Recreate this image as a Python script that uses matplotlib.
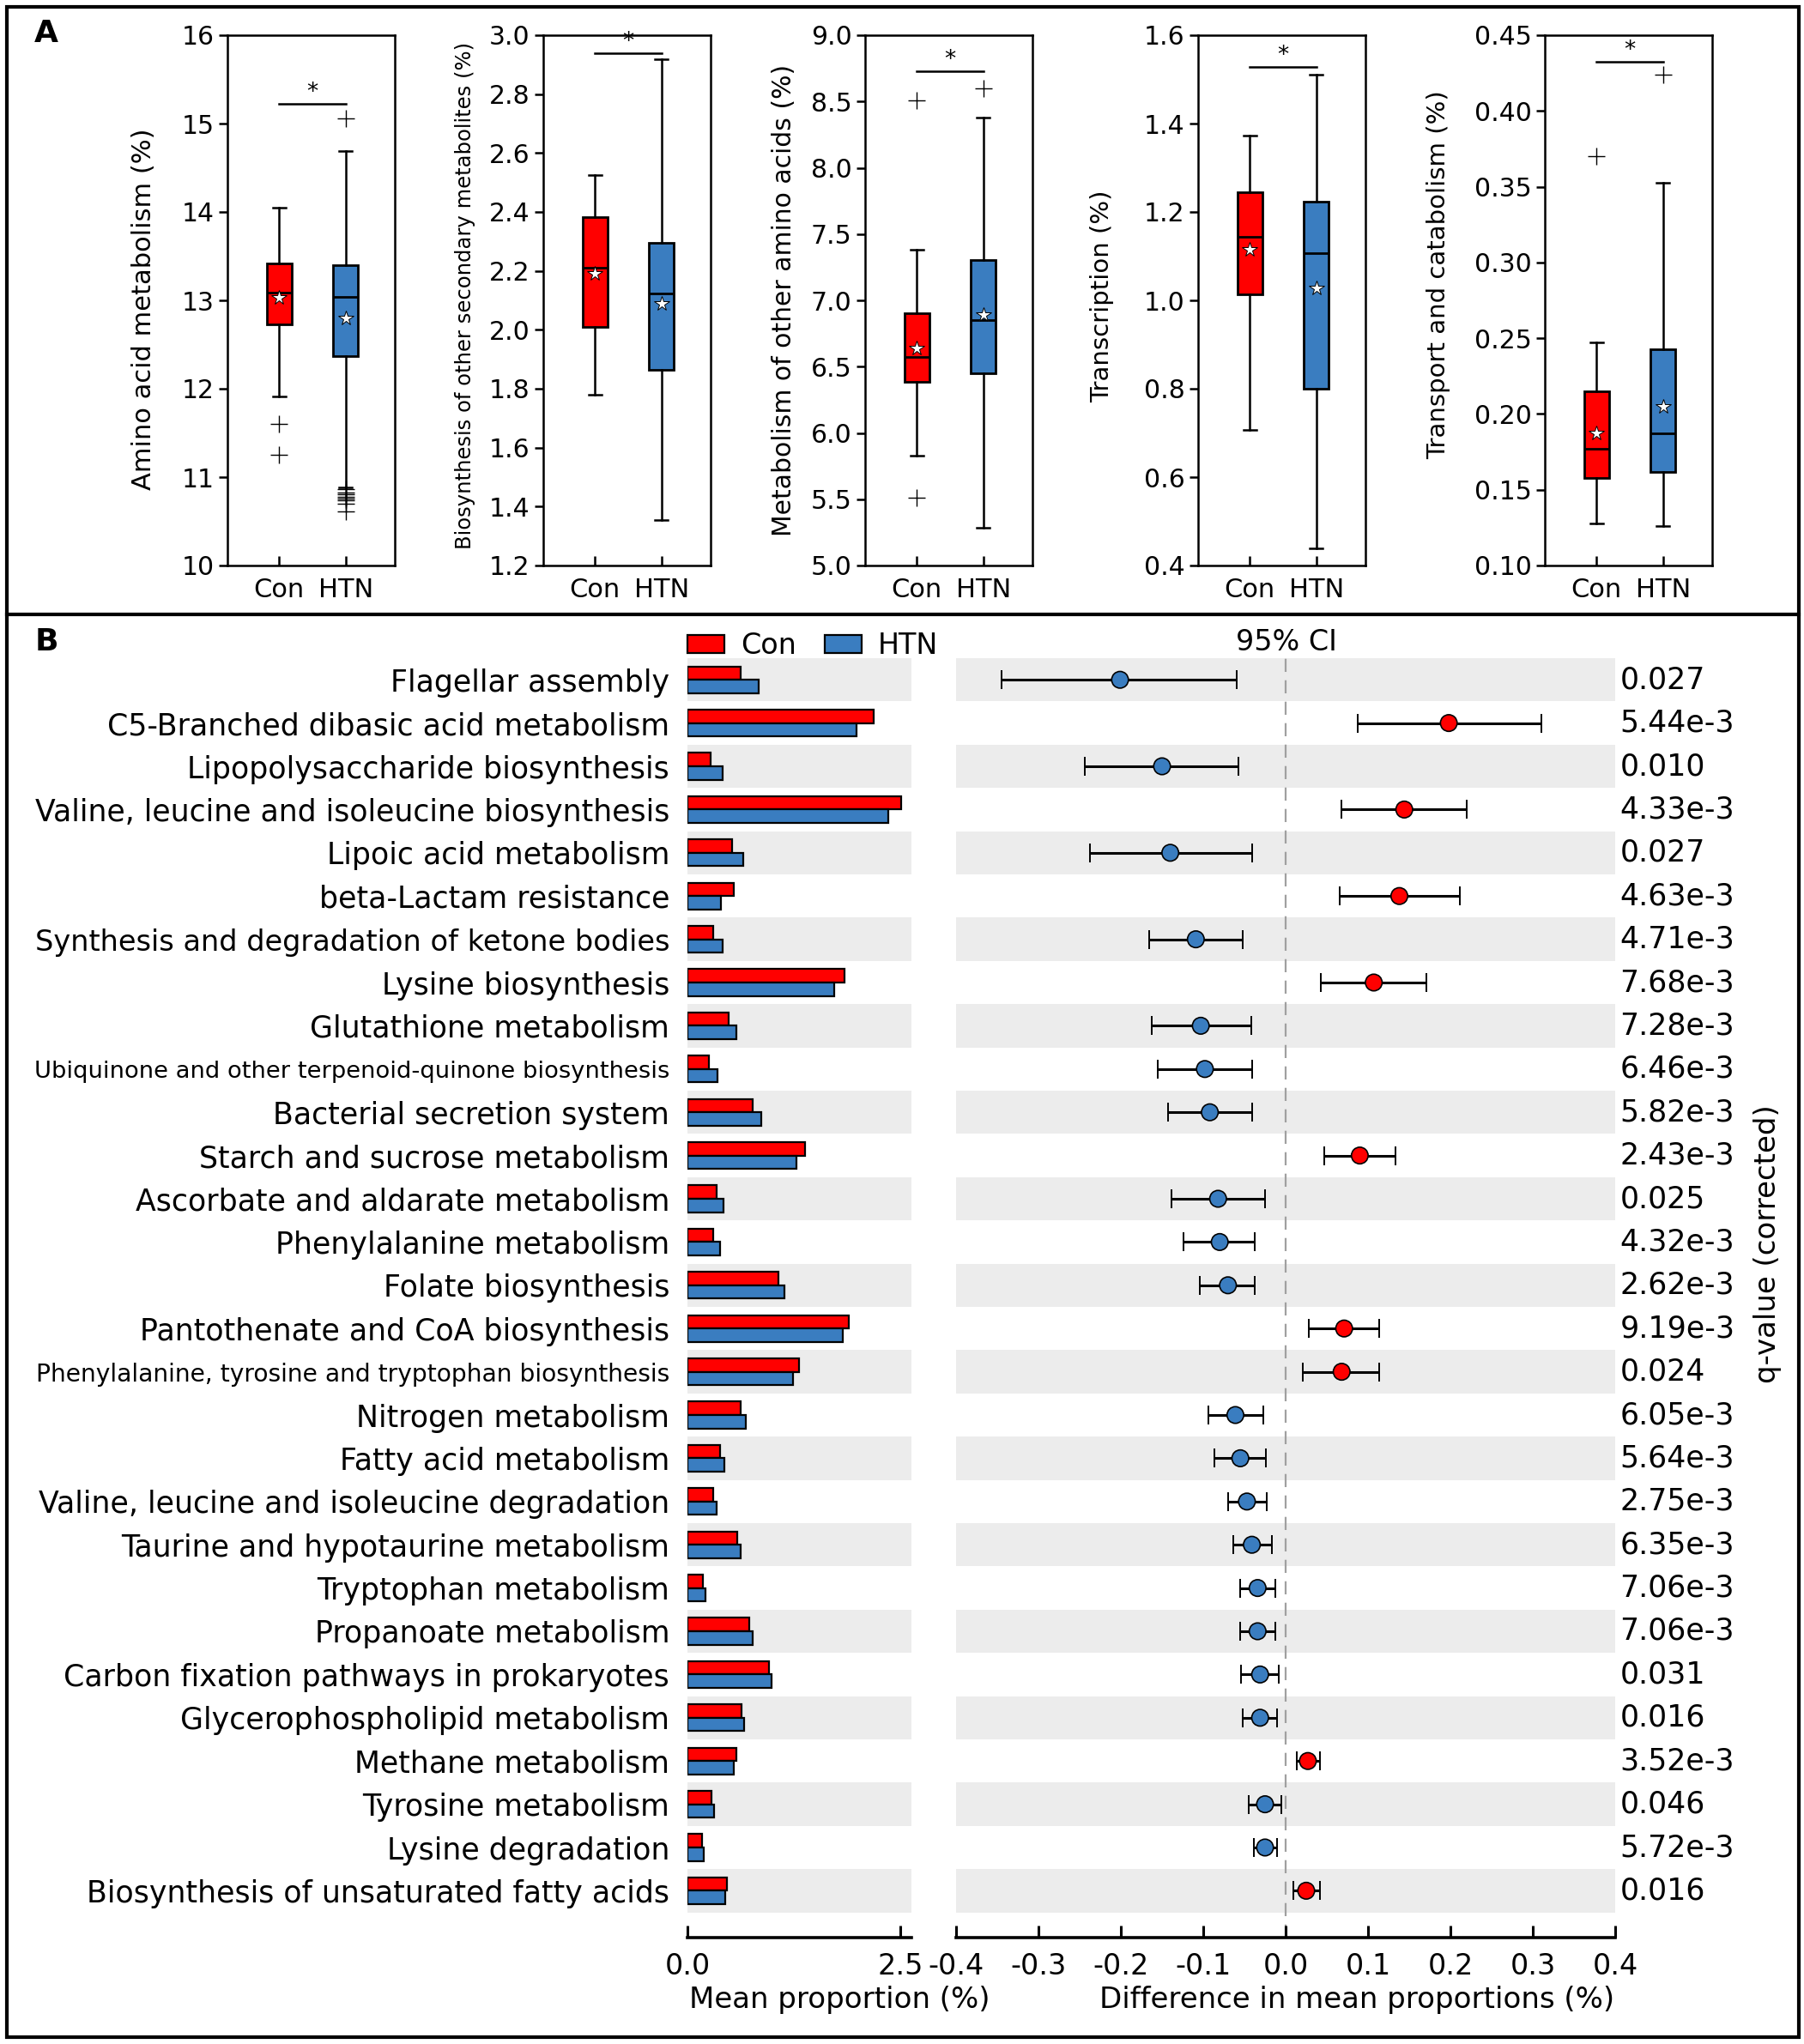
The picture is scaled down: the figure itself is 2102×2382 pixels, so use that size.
import matplotlib
matplotlib.use('Agg')
import matplotlib.pyplot as plt
import numpy as np
from matplotlib.patches import Rectangle, Patch
from matplotlib.lines import Line2D

plt.rcParams['font.family'] = ['DejaVu Sans']
plt.rcParams['lines.scale_dashes'] = False

# ---------------- Panel A data ----------------
box_ylabels = ['Amino acid metabolism (%)',
               'Biosynthesis of other secondary metabolites (%)',
               'Metabolism of other amino acids (%)',
               'Transcription (%)',
               'Transport and catabolism (%)']
groups = ['Con', 'HTN']
ytick_labels = [['10', '11', '12', '13', '14', '15', '16'],
                ['1.2', '1.4', '1.6', '1.8', '2.0', '2.2', '2.4', '2.6', '2.8', '3.0'],
                ['5.0', '5.5', '6.0', '6.5', '7.0', '7.5', '8.0', '8.5', '9.0'],
                ['0.4', '0.6', '0.8', '1.0', '1.2', '1.4', '1.6'],
                ['0.10', '0.15', '0.20', '0.25', '0.30', '0.35', '0.40', '0.45']]

con_whislo = [11.91, 1.781, 5.826, 0.706, 0.128]
con_q1 = [12.73, 2.010, 6.386, 1.013, 0.158]
con_med = [13.09, 2.211, 6.574, 1.144, 0.177]
con_q3 = [13.42, 2.382, 6.905, 1.245, 0.215]
con_whishi = [14.05, 2.524, 7.379, 1.372, 0.247]
con_mean = [13.03, 2.189, 6.640, 1.115, 0.187]
con_fliers = [[11.60, 11.25], [], [8.51, 5.51], [], [0.370]]

htn_whislo = [10.88, 1.354, 5.283, 0.439, 0.126]
htn_q1 = [12.37, 1.864, 6.452, 0.800, 0.162]
htn_med = [13.04, 2.122, 6.848, 1.106, 0.187]
htn_q3 = [13.40, 2.296, 7.301, 1.224, 0.243]
htn_whishi = [14.69, 2.917, 8.377, 1.511, 0.3525]
htn_mean = [12.80, 2.088, 6.887, 1.028, 0.205]
htn_fliers = [[15.06, 10.86, 10.83, 10.81, 10.78, 10.76, 10.74, 10.70, 10.61],
              [], [8.60], [], [0.424]]
sig_y = [15.22, 2.94, 8.73, 1.528, 0.4325]

# ---------------- Panel B data ----------------
pathways = ['Flagellar assembly',
            'C5-Branched dibasic acid metabolism',
            'Lipopolysaccharide biosynthesis',
            'Valine, leucine and isoleucine biosynthesis',
            'Lipoic acid metabolism',
            'beta-Lactam resistance',
            'Synthesis and degradation of ketone bodies',
            'Lysine biosynthesis',
            'Glutathione metabolism',
            'Ubiquinone and other terpenoid-quinone biosynthesis',
            'Bacterial secretion system',
            'Starch and sucrose metabolism',
            'Ascorbate and aldarate metabolism',
            'Phenylalanine metabolism',
            'Folate biosynthesis',
            'Pantothenate and CoA biosynthesis',
            'Phenylalanine, tyrosine and tryptophan biosynthesis',
            'Nitrogen metabolism',
            'Fatty acid metabolism',
            'Valine, leucine and isoleucine degradation',
            'Taurine and hypotaurine metabolism',
            'Tryptophan metabolism',
            'Propanoate metabolism',
            'Carbon fixation pathways in prokaryotes',
            'Glycerophospholipid metabolism',
            'Methane metabolism',
            'Tyrosine metabolism',
            'Lysine degradation',
            'Biosynthesis of unsaturated fatty acids']
con_prop = [0.62, 2.19, 0.27, 2.51, 0.52, 0.545, 0.30, 1.84, 0.48, 0.25,
            0.77, 1.38, 0.34, 0.30, 1.065, 1.895, 1.31, 0.625, 0.383, 0.30,
            0.585, 0.178, 0.73, 0.954, 0.635, 0.575, 0.282, 0.171, 0.467]
htn_prop = [0.835, 1.99, 0.41, 2.355, 0.658, 0.396, 0.41, 1.726, 0.573, 0.349,
            0.864, 1.284, 0.423, 0.38, 1.139, 1.821, 1.24, 0.689, 0.437, 0.346,
            0.628, 0.212, 0.766, 0.985, 0.669, 0.548, 0.309, 0.192, 0.44]
diff_mean = [-0.201, 0.198, -0.150, 0.144, -0.140, 0.138, -0.109, 0.107, -0.103, -0.098,
             -0.092, 0.090, -0.082, -0.080, -0.070, 0.071, 0.068, -0.061, -0.055, -0.047,
             -0.041, -0.034, -0.034, -0.031, -0.031, 0.027, -0.025, -0.025, 0.025]
ci_low = [-0.345, 0.088, -0.244, 0.068, -0.237, 0.066, -0.166, 0.043, -0.163, -0.155,
          -0.143, 0.047, -0.139, -0.124, -0.104, 0.028, 0.021, -0.094, -0.086, -0.070,
          -0.064, -0.055, -0.055, -0.054, -0.052, 0.014, -0.045, -0.039, 0.009]
ci_high = [-0.059, 0.310, -0.057, 0.220, -0.041, 0.211, -0.052, 0.171, -0.042, -0.041,
           -0.041, 0.133, -0.025, -0.037, -0.038, 0.114, 0.114, -0.027, -0.024, -0.023,
           -0.017, -0.013, -0.013, -0.008, -0.010, 0.042, -0.005, -0.010, 0.042]
qvals = ['0.027', '5.44e-3', '0.010', '4.33e-3', '0.027', '4.63e-3', '4.71e-3', '7.68e-3',
         '7.28e-3', '6.46e-3', '5.82e-3', '2.43e-3', '0.025', '4.32e-3', '2.62e-3', '9.19e-3',
         '0.024', '6.05e-3', '5.64e-3', '2.75e-3', '6.35e-3', '7.06e-3', '7.06e-3', '0.031',
         '0.016', '3.52e-3', '0.046', '5.72e-3', '0.016']
bar_ticks = ['0.0', '2.5']
ci_ticks = ['-0.4', '-0.3', '-0.2', '-0.1', '0.0', '0.1', '0.2', '0.3', '0.4']

# ---------------- figure ----------------
W, H = 2102, 2382
DPI = 100
fig = plt.figure(figsize=(W / DPI, H / DPI), dpi=DPI)


def fx(px):
    return px / W


def fy(py):
    return 1 - py / H


RED = '#ff0000'
BLUE = '#3a7dc0'
GRAY = '#ececec'

# ---------------- Panel A ----------------
ax_lefts = [265, 633, 1008, 1396, 1800]
ax_w = 195
a_top, a_bot = 41, 659
ylab_x = [168, 542, 913, 1284, 1676]
ylab_y = [360, 344, 350, 345, 320]
ylab_size = [22, 17.5, 21.5, 21, 21]

for k in range(5):
    ax = fig.add_axes([fx(ax_lefts[k]), fy(a_bot), ax_w / W, (a_bot - a_top) / H])
    stats = [dict(whislo=con_whislo[k], q1=con_q1[k], med=con_med[k], q3=con_q3[k],
                  whishi=con_whishi[k], mean=con_mean[k], fliers=con_fliers[k], label='Con'),
             dict(whislo=htn_whislo[k], q1=htn_q1[k], med=htn_med[k], q3=htn_q3[k],
                  whishi=htn_whishi[k], mean=htn_mean[k], fliers=htn_fliers[k], label='HTN')]
    bp = ax.bxp(stats, positions=[1, 2], widths=0.38, patch_artist=True, showmeans=True,
                boxprops=dict(edgecolor='black', linewidth=2.0),
                whiskerprops=dict(color='black', linewidth=1.8),
                capprops=dict(color='black', linewidth=1.8),
                medianprops=dict(color='black', linewidth=2.0),
                meanprops=dict(marker='*', markerfacecolor='white', markeredgecolor='black',
                               markeredgewidth=0.7, markersize=13),
                flierprops=dict(marker='+', markeredgecolor='black', markersize=14,
                                markeredgewidth=1.0, linestyle='none'))
    for patch, col in zip(bp['boxes'], [RED, BLUE]):
        patch.set_facecolor(col)
    ticks = [float(t) for t in ytick_labels[k]]
    ax.set_ylim(ticks[0], ticks[-1])
    ax.set_yticks(ticks)
    ax.set_yticklabels(ytick_labels[k])
    ax.set_xlim(0.22, 2.74)
    ax.set_xticks([1, 2])
    ax.set_xticklabels(groups)
    ax.tick_params(axis='y', direction='out', length=7, width=1.8, labelsize=21.5, pad=4)
    ax.tick_params(axis='x', direction='in', length=8, width=1.8, labelsize=22, pad=10)
    for s in ax.spines.values():
        s.set_linewidth(1.8)
    ax.plot([1, 2], [sig_y[k], sig_y[k]], color='black', lw=1.8)
    ax.text(1.5, sig_y[k], '*', ha='center', va='bottom', fontsize=19)
    fig.text(fx(ylab_x[k]), fy(ylab_y[k]), box_ylabels[k], rotation=90,
             ha='center', va='center', fontsize=ylab_size[k])

# ---------------- Panel B ----------------
n = len(pathways)
rows = np.arange(n)
b_top, b_bot = 767, 2258
row_h = 50.4
extra = (b_bot - (b_top + n * row_h)) / row_h
ylim = (n - 0.5 + extra, -0.5)

axb = fig.add_axes([fx(801), fy(b_bot), (1062 - 801) / W, (b_bot - b_top) / H])
axc = fig.add_axes([fx(1114), fy(b_bot), (1882 - 1114) / W, (b_bot - b_top) / H])

for ax in (axb, axc):
    ax.set_ylim(*ylim)
    for i in rows[::2]:
        ax.axhspan(i - 0.5, i + 0.5, color=GRAY, lw=0, zorder=0)
    for s in ['top', 'right', 'left']:
        ax.spines[s].set_visible(False)
    ax.spines['bottom'].set_linewidth(2.6)
    ax.tick_params(axis='x', direction='in', length=10, width=2.2, labelsize=24, pad=12)

bh = 0.31
axb.barh(rows - bh / 2, con_prop, height=bh, color=RED, edgecolor='black', lw=1.6, zorder=2)
axb.barh(rows + bh / 2, htn_prop, height=bh, color=BLUE, edgecolor='black', lw=1.6, zorder=2)
axb.set_xlim(0, 2.63)
axb.set_xticks([float(t) for t in bar_ticks])
axb.set_xticklabels(bar_ticks)
axb.set_yticks(rows)
axb.set_yticklabels(pathways)
axb.tick_params(axis='y', length=0, labelsize=25, pad=15)

axc.set_xlim(-0.4, 0.4)
axc.set_xticks([float(t) for t in ci_ticks])
axc.set_xticklabels(ci_ticks)
axc.set_yticks([])
axc.axvline(0, color='#a0a0a0', lw=1.6, dashes=(11, 7), zorder=1)
dm = np.array(diff_mean)
lo = np.array(ci_low)
hi = np.array(ci_high)
axc.errorbar(dm, rows, xerr=[dm - lo, hi - dm], fmt='none', ecolor='black',
             elinewidth=2.2, capsize=8, capthick=1.4, zorder=3)
cols = [RED if d > 0 else BLUE for d in diff_mean]
axc.scatter(dm, rows, s=14 ** 2, c=cols, edgecolors='black', linewidths=1.2, zorder=4)

for i, q in enumerate(qvals):
    axc.text(1.007, i, q, transform=axc.get_yaxis_transform(), ha='left', va='center',
             fontsize=25)

fig.text(fx(2059), fy(1450), 'q-value (corrected)', rotation=90, ha='center',
         va='center', fontsize=24.5)
fig.text(fx(1499), fy(748), '95% CI', ha='center', va='center', fontsize=24)
fig.text(fx(803), fy(2340), 'Mean proportion (%)', ha='left', va='baseline', fontsize=24.5)
fig.text(fx(1281), fy(2340), 'Difference in mean proportions (%)', ha='left',
         va='baseline', fontsize=24.5)

leg = fig.legend(handles=[Patch(facecolor=RED, edgecolor='black', lw=1.6, label='Con'),
                          Patch(facecolor=BLUE, edgecolor='black', lw=1.6, label='HTN')],
                 loc='center left', bbox_to_anchor=(fx(801), fy(753)), ncol=2,
                 frameon=False, fontsize=24, handlelength=1.3, handleheight=0.6,
                 handletextpad=0.55, columnspacing=1.0, borderpad=0, borderaxespad=0)

# panel letters and frame
fig.text(fx(54), fy(39), 'A', fontsize=26, fontweight='bold', ha='center', va='center')
fig.text(fx(54), fy(748), 'B', fontsize=26, fontweight='bold', ha='center', va='center')
fig.add_artist(Rectangle((fx(8), fy(2374)), (2096 - 8) / W, (2374 - 8) / H,
                         transform=fig.transFigure, fill=False, lw=3, edgecolor='black'))
fig.add_artist(Line2D([fx(8), fx(2096)], [fy(716), fy(716)], transform=fig.transFigure,
                      color='black', lw=3))

# shrink over-long pathway labels so they fit
fig.canvas.draw()
renderer = fig.canvas.get_renderer()
maxw = 740
for t in axb.get_yticklabels():
    w = t.get_window_extent(renderer).width
    if w > maxw:
        t.set_fontsize(t.get_fontsize() * maxw / w)

fig.savefig('out.png', dpi=DPI)
